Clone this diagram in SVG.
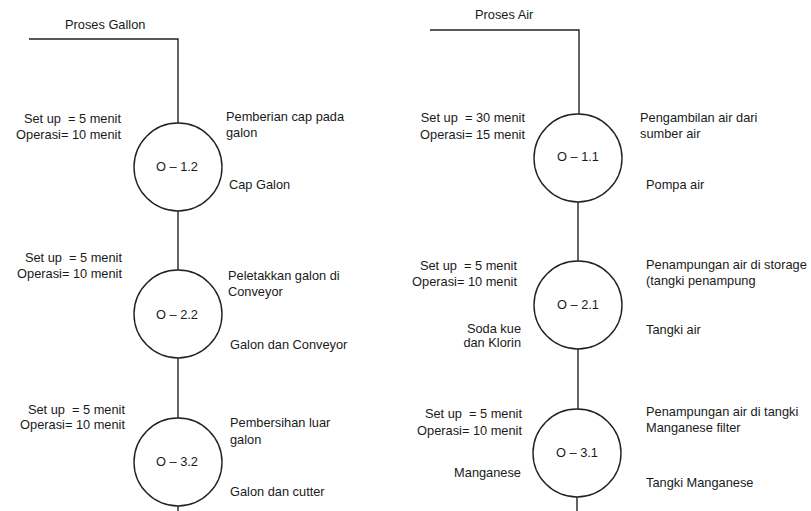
<svg xmlns="http://www.w3.org/2000/svg" width="811" height="511" viewBox="0 0 811 511">
<style>
text{font-family:"Liberation Sans",Arial,sans-serif;font-size:12.8px;fill:#1a1a1a;white-space:pre}
.c{text-anchor:middle}
.e{text-anchor:end}
.op{fill:#fff;stroke:#222;stroke-width:1.4}
.ln{fill:none;stroke:#222;stroke-width:1.4}
</style>
<rect width="811" height="511" fill="#fff"/>
<g id="connectors">
<polyline class="ln" points="29,39 178,39 178,123"/>
<line class="ln" x1="178" y1="211" x2="178" y2="270"/>
<line class="ln" x1="178" y1="358" x2="178" y2="418"/>
<line class="ln" x1="178" y1="506" x2="178" y2="511"/>
<polyline class="ln" points="430,30 579,30 579,114"/>
<line class="ln" x1="578" y1="202" x2="578" y2="261"/>
<line class="ln" x1="578" y1="349" x2="578" y2="409"/>
<line class="ln" x1="577" y1="497" x2="577" y2="511"/>
</g>
<g id="title-gallon"><text x="65" y="29">Proses Gallon</text></g>
<g id="title-air"><text x="475" y="19">Proses Air</text></g>
<g id="o12">
<circle class="op" cx="178" cy="167" r="44"/>
<text class="c" x="177" y="171">O – 1.2</text>
<text class="e" x="121" y="123">Set up  = 5 menit</text>
<text class="e" x="121" y="139">Operasi= 10 menit</text>
<text x="226" y="121">Pemberian cap pada</text>
<text x="226" y="137">galon</text>
<text x="229" y="189">Cap Galon</text>
</g>
<g id="o22">
<circle class="op" cx="178" cy="314" r="44"/>
<text class="c" x="177" y="319">O – 2.2</text>
<text class="e" x="122" y="262">Set up  = 5 menit</text>
<text class="e" x="122" y="278">Operasi= 10 menit</text>
<text x="228" y="280">Peletakkan galon di</text>
<text x="228" y="296">Conveyor</text>
<text x="230" y="349">Galon dan Conveyor</text>
</g>
<g id="o32">
<circle class="op" cx="178" cy="462" r="44"/>
<text class="c" x="177" y="466">O – 3.2</text>
<text class="e" x="125" y="414">Set up  = 5 menit</text>
<text class="e" x="125" y="429">Operasi= 10 menit</text>
<text x="230" y="427">Pembersihan luar</text>
<text x="230" y="444">galon</text>
<text x="230" y="496">Galon dan cutter</text>
</g>
<g id="o11">
<circle class="op" cx="578" cy="158" r="44"/>
<text class="c" x="578" y="161">O – 1.1</text>
<text class="e" x="525" y="122">Set up  = 30 menit</text>
<text class="e" x="525" y="139">Operasi= 15 menit</text>
<text x="640" y="122">Pengambilan air dari</text>
<text x="640" y="138">sumber air</text>
<text x="646" y="189">Pompa air</text>
</g>
<g id="o21">
<circle class="op" cx="578" cy="305" r="44"/>
<text class="c" x="578" y="309">O – 2.1</text>
<text class="e" x="517" y="270">Set up  = 5 menit</text>
<text class="e" x="517" y="286">Operasi= 10 menit</text>
<text class="e" x="521" y="333">Soda kue</text>
<text class="e" x="521" y="347">dan Klorin</text>
<text x="646" y="269">Penampungan air di storage</text>
<text x="646" y="285">(tangki penampung</text>
<text x="646" y="334">Tangki air</text>
</g>
<g id="o31">
<circle class="op" cx="577" cy="453" r="44"/>
<text class="c" x="577" y="457">O – 3.1</text>
<text class="e" x="522" y="418">Set up  = 5 menit</text>
<text class="e" x="522" y="435">Operasi= 10 menit</text>
<text class="e" x="521" y="477">Manganese</text>
<text x="646" y="416">Penampungan air di tangki</text>
<text x="646" y="432">Manganese filter</text>
<text x="646" y="487">Tangki Manganese</text>
</g>
</svg>
